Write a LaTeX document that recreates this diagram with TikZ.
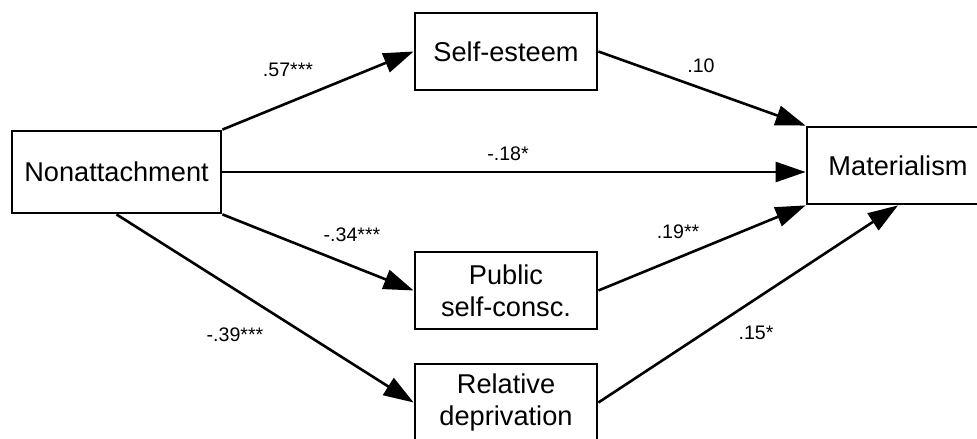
\documentclass[tikz,border=0pt]{standalone}
\usepackage{fontspec}
\setmainfont{Liberation Sans}
\usetikzlibrary{arrows.meta}

\tikzset{
	varbox/.style={draw, line width=1.4pt, fill=white, align=center,
		minimum width=91pt, minimum height=38.5pt, inner sep=0pt,
		font=\fontsize{13.6}{16}\selectfont},
	path/.style={line width=1.3pt, -{Triangle[length=15pt,width=10pt]}},
	coef/.style={font=\fontsize{9.8}{12}\selectfont, inner sep=0pt}
}

\begin{document}
\begin{tikzpicture}[x=0.5pt,y=-0.5pt]
		\useasboundingbox (0,0) rectangle (977,438);
		\clip (0,0) rectangle (977,438);
		
		% variables
		\node[varbox, minimum width=104.5pt, minimum height=41pt] (nonatt) at (116.5,172){Nonattachment};
		\node[varbox] (selfest) at (506,51.5){Self-esteem};
		\node[varbox] (pubsc) at (506,290.5){Public\\self-consc.};
		\node[varbox] (reldep) at (506,402.5){Relative\\deprivation};
		\node[varbox] (mat) at (898,165.5){Materialism};
		
		% paths
		\draw[path] (nonatt.north east) -- (selfest.west);
		\draw[path] (selfest.east) -- (mat.north west);
		\draw[path] (nonatt.east) -- (nonatt.east -| mat.west);
		\draw[path] (nonatt.south east) -- (pubsc.west);
		\draw[path] (pubsc.east) -- (mat.south west);
		\draw[path] (nonatt.south) -- (reldep.west);
		\draw[path] (reldep.east) -- (mat.south);
		
		% coefficients
		\node[coef] (c1) at (288,70){.57***};
		\node[coef] (c2) at (701,66){.10};
		\node[coef] (c3) at (508,154){-.18*};
		\node[coef] (c4) at (352,235){-.34***};
		\node[coef] (c5) at (678,232){.19**};
		\node[coef] (c6) at (235,335){-.39***};
		\node[coef] (c7) at (756,333){.15*};
	\end{tikzpicture}
\end{document}
